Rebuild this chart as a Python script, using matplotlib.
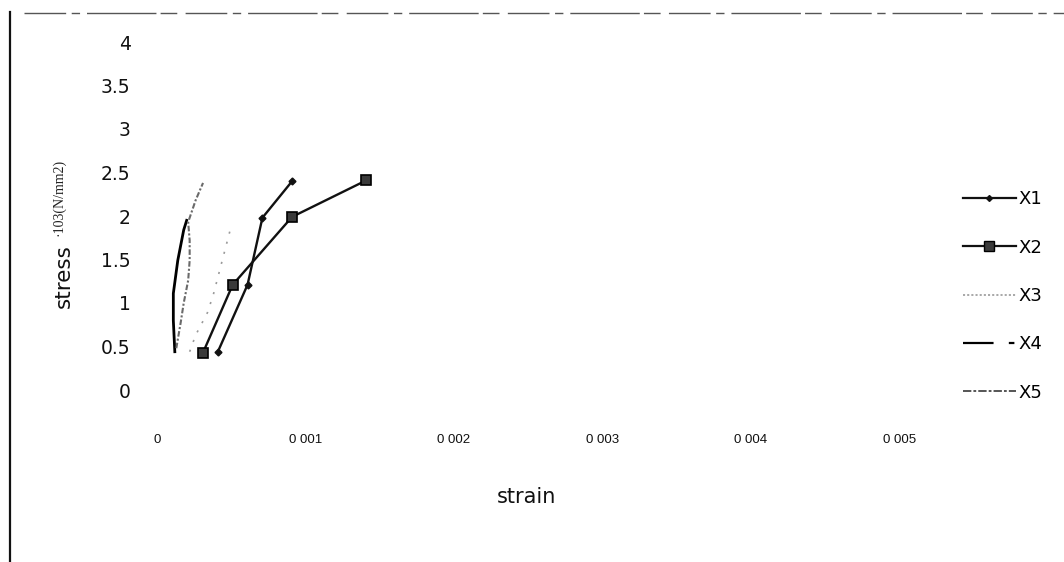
import matplotlib
matplotlib.use("Agg")
import matplotlib.pyplot as plt
from matplotlib.lines import Line2D

plt.rcParams["lines.scale_dashes"] = False

# strain / stress readings for each specimen
x1_strain = [0.00041, 0.00061, 0.00071, 0.00091]
x1_stress = [0.44, 1.21, 1.98, 2.40]

x2_strain = [0.00031, 0.00051, 0.00091, 0.00141]
x2_stress = [0.43, 1.21, 1.99, 2.41]

x3_strain = [0.00022, 0.00026, 0.00034, 0.00038, 0.00049]
x3_stress = [0.44, 0.63, 0.89, 1.10, 1.82]

x4_strain = [0.00012, 0.00011, 0.00011, 0.00014, 0.00018, 0.00020]
x4_stress = [0.44, 0.80, 1.11, 1.49, 1.84, 1.95]

x5_strain = [0.00013, 0.00016, 0.00018, 0.00021, 0.00022, 0.00022, 0.00021, 0.00026, 0.00031]
x5_stress = [0.48, 0.78, 1.00, 1.26, 1.49, 1.72, 1.93, 2.18, 2.38]

series_names = ["X1", "X2", "X3", "X4", "X5"]
x_ticks = [0, 0.001, 0.002, 0.003, 0.004, 0.005]
x_tick_labels = ["0", "0 001", "0 002", "0 003", "0 004", "0 005"]
y_ticks = [0, 0.5, 1, 1.5, 2, 2.5, 3, 3.5, 4]
y_tick_labels = ["0", "0.5", "1", "1.5", "2", "2.5", "3", "3.5", "4"]

W, H = 1064, 562
fig = plt.figure(figsize=(W / 100, H / 100), dpi=100)
fig.patch.set_facecolor("white")


def fx(px):
    return px / W


def fy(py):
    return 1 - py / H


ax = fig.add_axes([fx(157), fy(390), fx(929) - fx(157), fy(42) - fy(390)])
ax.set_xlim(0, 0.0052)
ax.set_ylim(0, 4)
for s in ax.spines.values():
    s.set_visible(False)
ax.set_facecolor("none")

l1, = ax.plot(x1_strain, x1_stress, color="#111111", lw=1.7, marker="D",
              ms=3.5, mfc="#111111", mec="#111111")
l2, = ax.plot(x2_strain, x2_stress, color="#111111", lw=1.7, marker="s",
              ms=7.5, mfc="#3a3a3a", mec="#000000", mew=1.2)
l3, = ax.plot(x3_strain, x3_stress, color="#9a9a9a", lw=1.2,
              linestyle=(0, (1.5, 6)))
l4, = ax.plot(x4_strain, x4_stress, color="#000000", lw=2.0)
l5, = ax.plot(x5_strain, x5_stress, color="#6a6a6a", lw=1.5,
              linestyle=(0, (4, 1.5, 1.5, 1.5)))

ax.set_xticks(x_ticks)
ax.set_xticklabels(x_tick_labels, fontsize=9.5,
                   family=["Liberation Sans Narrow", "Liberation Sans"])
ax.set_yticks(y_ticks)
ax.set_yticklabels(y_tick_labels, fontsize=13.5, family="DejaVu Sans")
ax.tick_params(axis="x", length=0, pad=32, colors="#111111")
ax.tick_params(axis="y", length=0, pad=19, colors="#111111")

# axis titles
fig.text(fx(527), fy(497), "strain", ha="center", va="center",
         fontsize=15, family="DejaVu Sans", color="#111111")
fig.text(fx(64), fy(308), "stress", ha="center", va="bottom", rotation=90,
         fontsize=15.5, family="DejaVu Sans", color="#111111")
fig.text(fx(59), fy(236), "\u00b7103(N/mm2)", ha="center", va="bottom",
         rotation=90, fontsize=10, family="Liberation Serif", color="#222222")

# legend proxies
h1 = Line2D([], [], color="#111111", lw=1.6, marker="D", ms=3,
            mfc="#111111", mec="#111111")
h2 = Line2D([], [], color="#111111", lw=1.6, marker="s", ms=7,
            mfc="#3a3a3a", mec="#000000")
h3 = Line2D([], [], color="#9a9a9a", lw=1.2, linestyle=(0, (1.5, 1.5)))
h4 = Line2D([], [], color="#000000", lw=1.6, linestyle=(0, (22, 11, 4, 30)))
h5 = Line2D([], [], color="#555555", lw=1.4, linestyle=(0, (6, 1.5, 2, 1.5)))
fig.legend([h1, h2, h3, h4, h5], series_names, loc="upper left",
           bbox_to_anchor=(fx(947), fy(174)), frameon=False,
           handlelength=2.9, handletextpad=0.15, labelspacing=1.68,
           prop={"family": "DejaVu Sans", "size": 13})

# page border remnants
fig.add_artist(Line2D([fx(10), fx(10)], [fy(12), fy(562)], color="#111111", lw=1.6))
fig.add_artist(Line2D([fx(24), fx(1064)], [fy(13), fy(13)], color="#555555", lw=1.0,
                      linestyle=(0, (30, 4, 6, 5, 50, 3, 12, 6))))

fig.savefig("out.png", dpi=100, facecolor="white")
